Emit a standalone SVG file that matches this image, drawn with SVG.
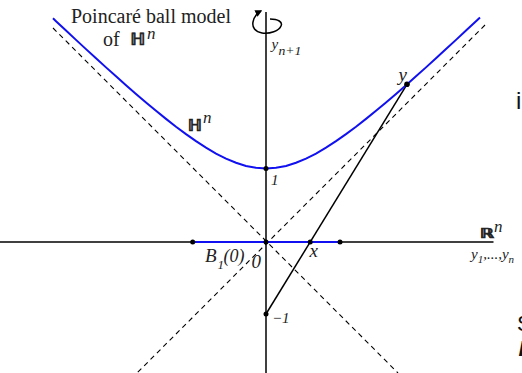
<svg xmlns="http://www.w3.org/2000/svg" width="522" height="373" viewBox="0 0 522 373">
<style>
.ax{stroke:#000;stroke-width:1.5;fill:none}
.blue{stroke:#1010f0;stroke-width:2;fill:none}
.dash{stroke:#000;stroke-width:1.1;stroke-dasharray:5 4;fill:none}
.dot{fill:#000}
.m{font-family:"Liberation Serif","Times New Roman",serif;font-style:italic;fill:#222}
.t{font-family:"Liberation Serif","Times New Roman",serif;fill:#222}
.bb{font-family:"DejaVu Serif","DejaVu Sans",serif;font-style:italic;font-weight:bold;fill:#222;stroke:#222;stroke-width:0.7}
.s{font-family:"Liberation Sans",Arial,sans-serif;fill:#111}
</style>
<defs>
<marker id="ah" viewBox="0 0 10 10" refX="8" refY="5" markerWidth="7" markerHeight="7" markerUnits="userSpaceOnUse" orient="auto"><path d="M0,0 L10,5 L0,10 z" fill="#000"/></marker>
</defs>
<rect width="522" height="373" fill="#fff"/>
<g id="connectors">
<line class="dash" x1="53" y1="28" x2="398" y2="373"/>
<line class="dash" x1="485" y1="25" x2="136" y2="374"/>
<line class="ax" x1="0" y1="242" x2="493.5" y2="242"/>
<line class="ax" x1="266" y1="12" x2="266" y2="373"/>
<path class="ax" d="M 270,19 C 278,19 283,22 281,26 C 279,31 270,34 262,33 C 255,32 252,27 253,22 C 254,17 257,13 261,11" marker-end="url(#ah)"/>
<line class="ax" x1="266" y1="314" x2="407" y2="84.3"/>
</g>
<g id="hyperboloid">
<path class="blue" d="M 53,18.35 L 56,21.17 66,30.55 76,39.86 86,49.11 96,58.28 106,67.37 116,76.35 126,85.2 136,93.91 146,102.46 156,110.8 166,118.9 176,126.7 186,134.15 196,141.18 206,147.67 216,153.53 226,158.62 236,162.79 246,165.91 256,167.84 266,168.5 276,167.84 286,165.91 296,162.79 306,158.62 316,153.53 326,147.67 336,141.18 346,134.15 356,126.7 366,118.9 376,110.8 386,102.46 396,93.91 406,85.2 416,76.35 426,67.37 436,58.28 446,49.11 456,39.86 466,30.55 476,21.17 480,17.4"/>
<text class="bb" x="187.5" y="131" font-size="16" textLength="14" lengthAdjust="spacingAndGlyphs">ℍ</text>
<text class="m" x="203" y="123" font-size="17">n</text>
</g>
<g id="ball">
<line class="blue" x1="192.7" y1="242" x2="340" y2="242"/>
<circle class="dot" cx="192.7" cy="242" r="2.5"/>
<circle class="dot" cx="340" cy="242" r="2.5"/>
<text class="m" x="205" y="262" font-size="19">B</text>
<text class="m" x="217.5" y="269" font-size="13">1</text>
<text class="m" x="223.5" y="262" font-size="18">(0)</text>
</g>
<g id="title">
<text class="t" x="71" y="23" font-size="20">Poincaré ball model</text>
<text class="t" x="103" y="46" font-size="20">of</text>
<text class="bb" x="130" y="45" font-size="17" textLength="15" lengthAdjust="spacingAndGlyphs">ℍ</text>
<text class="m" x="147" y="38.5" font-size="17">n</text>
</g>
<g id="axis-labels">
<text class="m" x="271.5" y="49" font-size="15">y</text>
<text class="m" x="278.5" y="55" font-size="12" textLength="23" lengthAdjust="spacingAndGlyphs">n+1</text>
<text class="bb" x="480" y="238" font-size="14" textLength="14" lengthAdjust="spacingAndGlyphs">ℝ</text>
<text class="m" x="494" y="232" font-size="17">n</text>
<text class="m" x="471" y="259" font-size="15">y<tspan font-size="11" dy="4">1</tspan><tspan dy="-4">,...,y</tspan><tspan font-size="11" dy="4">n</tspan></text>
</g>
<g id="point-one">
<circle class="dot" cx="266" cy="168.5" r="2.5"/>
<text class="m" x="271" y="185" font-size="15">1</text>
</g>
<g id="point-origin">
<circle class="dot" cx="266" cy="242" r="2.5"/>
<text class="m" x="251.5" y="267.5" font-size="19">0</text>
</g>
<g id="point-minus-one">
<circle class="dot" cx="266" cy="314" r="2.5"/>
<text class="m" x="272" y="322.5" font-size="15">−1</text>
</g>
<g id="point-x">
<circle class="dot" cx="310.2" cy="242" r="2.5"/>
<text class="m" x="309.5" y="256.5" font-size="19">x</text>
</g>
<g id="point-y">
<circle class="dot" cx="407" cy="84.3" r="2.8"/>
<text class="m" x="398.5" y="81" font-size="19">y</text>
</g>
<g id="edge-fragments">
<text class="s" x="516" y="109" font-size="24">i</text>
<text class="s" x="517" y="331" font-size="22">S</text>
<text class="s" x="518.5" y="356" font-size="22" font-style="italic" font-weight="bold">I</text>
</g>
</svg>
